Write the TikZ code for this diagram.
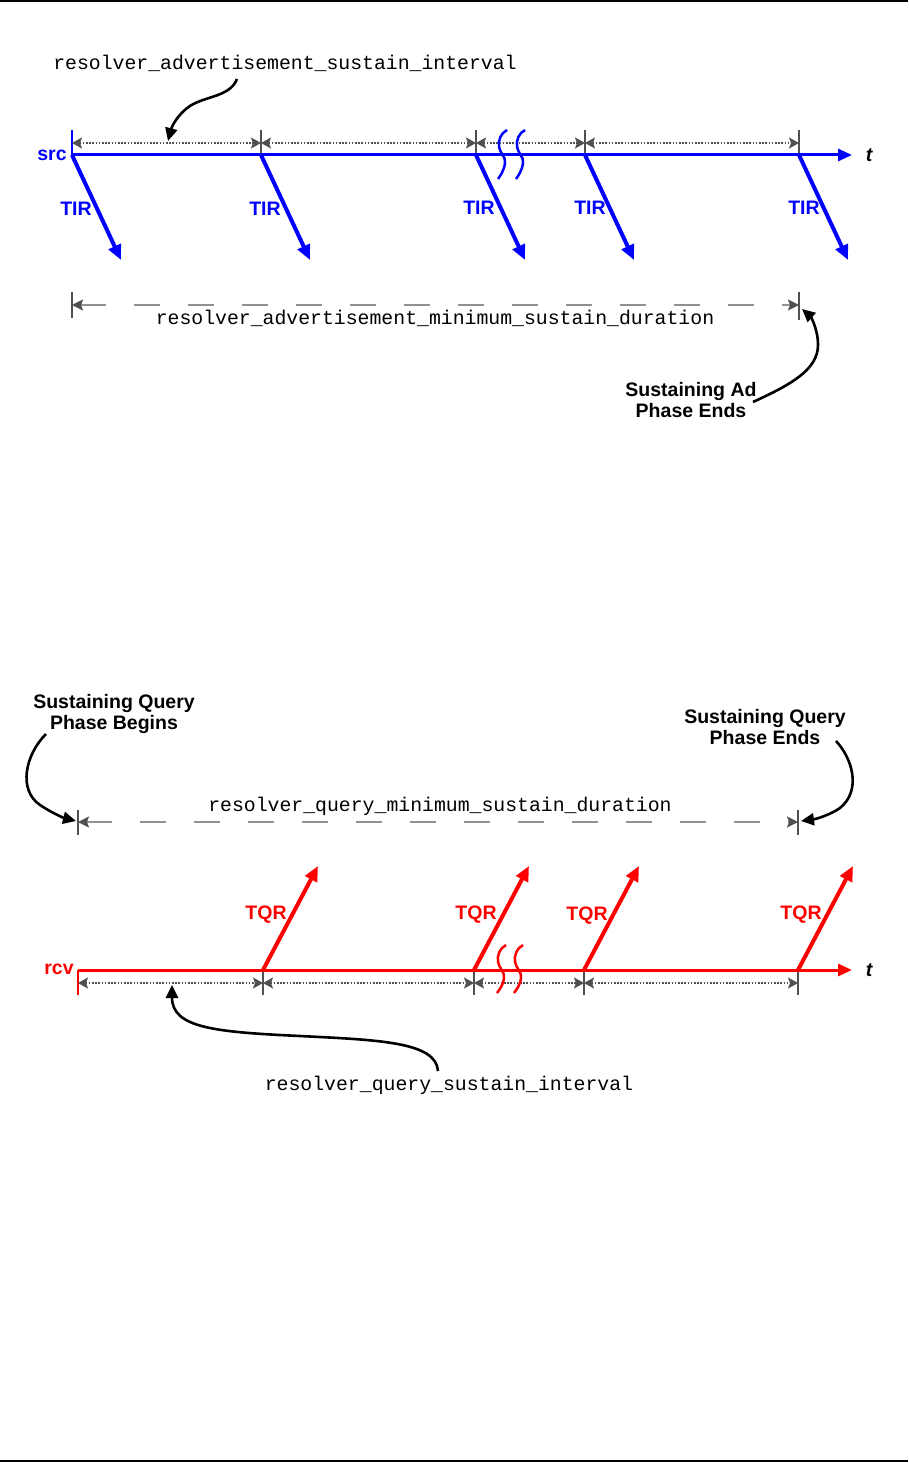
\documentclass[tikz,border=0pt]{standalone}
\usepackage{fontspec}
\setmainfont{Liberation Sans}
\newfontfamily\monof{Liberation Mono}
\usetikzlibrary{arrows.meta}
\definecolor{dimgray}{RGB}{80,80,80}
\definecolor{dashgray}{RGB}{145,145,145}
\begin{document}
\begin{tikzpicture}[x=1pt,y=-1pt,
  axisB/.style={blue,line width=3pt,-{Triangle[length=14pt,width=12pt]}},
  axisR/.style={red,line width=3pt,-{Triangle[length=14pt,width=12pt]}},
  tirarrow/.style={blue,line width=4pt,-{Triangle[length=15pt,width=13pt]}},
  tqrarrow/.style={red,line width=4pt,-{Triangle[length=15pt,width=13pt]}},
  lbl/.style={font=\fontsize{19.5}{21}\selectfont\bfseries,inner sep=0pt,align=center},
  monotext/.style={font=\monof\fontsize{19.8}{22}\selectfont,inner sep=0pt},
  tickmark/.style={dimgray,line width=1.3pt},
  dimline/.style={dimgray,line width=1.5pt,dash pattern=on 1.6pt off 1.6pt,
    {Stealth[length=10pt,width=11pt,inset=2pt]}-{Stealth[length=10pt,width=11pt,inset=2pt]}},
  dashdim/.style={dashgray,line width=2pt,dash pattern=on 26pt off 28pt,
    {Stealth[length=11pt,width=11pt,inset=2pt,dimgray]}-{Stealth[length=11pt,width=11pt,inset=2pt,dimgray]}},
  callout/.style={black,line width=2.6pt,-{Triangle[length=13pt,width=12pt]}},
  breakmark/.style={line width=2.5pt}
]
\useasboundingbox (0,0) rectangle (908,1463);
% page rules
\draw[line width=1.8pt] (0,1) -- (908,1);
\draw[line width=1.8pt] (0,1461) -- (908,1461);

% ================= TOP (src) =================
\coordinate (s0) at (72,155);
\coordinate (s1) at (261,155);
\coordinate (s2) at (476,155);
\coordinate (s3) at (585,155);
\coordinate (s4) at (799,155);
\coordinate (send) at (852,155);
\node[lbl,blue] (src) at (52,155) {src};
\node[lbl,font=\fontsize{19.5}{21}\selectfont\bfseries\itshape] (tS) at (869,155) {t};
% ticks
\draw[blue,line width=1.3pt] (72,130) -- (s0);
\foreach \x in {261,476,585,799} {\draw[tickmark] (\x,130) -- (\x,155);}
% dimension segments
\draw[dimline] (72,143) -- (261,143);
\draw[dimline] (261,143) -- (476,143);
\draw[dimline] (476,143) -- (585,143);
\draw[dimline] (585,143) -- (799,143);
% axis
\draw[axisB] (s0) -- (send);
% break marks
\foreach \x in {503,521} {
  \draw[blue,breakmark] (\x+4,130) .. controls (\x-2,133) and (\x-5,140) .. (\x-4,147)
     .. controls (\x-3,153) and (\x+3,157) .. (\x+2,163)
     .. controls (\x+1,171) and (\x-3,176) .. (\x-5,179);
}
% TIR arrows
\foreach \n/\x in {0/72,1/261,2/476,3/585,4/799} {
  \coordinate (se\n) at (\x+49,260);
  \draw[tirarrow] (s\n) -- (se\n);
}
\node[lbl,blue] (tir0) at (76,209) {TIR};
\node[lbl,blue] (tir1) at (265,209) {TIR};
\node[lbl,blue] (tir2) at (479,208) {TIR};
\node[lbl,blue] (tir3) at (590,208) {TIR};
\node[lbl,blue] (tir4) at (804,208) {TIR};
% interval label
\node[monotext] (advint) at (285,63) {resolver\_advertisement\_sustain\_interval};
\coordinate (advintTip) at (168,141);
\draw[callout] (237,79) .. controls (230,97) and (205,96) .. (190,106)
  .. controls (178,114) and (172,126) .. (advintTip);
% min duration
\coordinate (ad0) at (72,305);
\coordinate (ad1) at (799,305);
\draw[tickmark] (72,292) -- (72,318);
\draw[tickmark] (799,292) -- (799,320);
\draw[dashdim] (ad0) -- (ad1);
\node[monotext] (admin) at (435,318) {resolver\_advertisement\_minimum\_sustain\_duration};
\node[lbl] (adends) at (691,400) {Sustaining Ad\\Phase Ends};
\coordinate (adendTip) at (802,309);
\draw[callout] (753,402) .. controls (790,385) and (818,370) .. (818,345)
  .. controls (818,328) and (810,316) .. (adendTip);

% ================= BOTTOM (rcv) =================
\node[lbl] (qbegin) at (114,714) {Sustaining Query\\Phase Begins};
\node[lbl] (qends) at (765,727) {Sustaining Query\\Phase Ends};
\coordinate (q0) at (78,822);
\coordinate (q1) at (798,822);
\draw[tickmark] (78,810) -- (78,835);
\draw[tickmark] (798,810) -- (798,835);
\draw[dashdim] (q0) -- (q1);
\node[monotext] (qmin) at (440,806) {resolver\_query\_minimum\_sustain\_duration};
\draw[callout] (46,734) .. controls (25,755) and (18,790) .. (40,805)
  .. controls (52,813) and (64,818) .. (76,821);
\draw[callout] (836,741) .. controls (852,758) and (862,790) .. (840,808)
  .. controls (830,815) and (816,819) .. (801,821);

\coordinate (r0) at (78,970);
\coordinate (r1) at (263,970);
\coordinate (r2) at (474,970);
\coordinate (r3) at (584,970);
\coordinate (r4) at (798,970);
\coordinate (rend) at (852,970);
\node[lbl,red] (rcv) at (59,969) {rcv};
\node[lbl,font=\fontsize{19.5}{21}\selectfont\bfseries\itshape] (tR) at (869,970) {t};
\draw[red,line width=1.3pt] (r0) -- (78,995);
\foreach \x in {263,474,584,798} {\draw[tickmark] (\x,970) -- (\x,995);}
\draw[dimline] (78,983) -- (263,983);
\draw[dimline] (263,983) -- (474,983);
\draw[dimline] (474,983) -- (584,983);
\draw[dimline] (584,983) -- (798,983);
\draw[axisR] (r0) -- (rend);
\foreach \x in {502,519} {
  \draw[red,breakmark] (\x+4,945) .. controls (\x-2,948) and (\x-5,955) .. (\x-4,962)
     .. controls (\x-3,968) and (\x+3,972) .. (\x+2,978)
     .. controls (\x+1,986) and (\x-3,990) .. (\x-5,993);
}
\foreach \n/\x in {1/263,2/474,3/584,4/798} {
  \coordinate (re\n) at (\x+55,866);
  \draw[tqrarrow] (r\n) -- (re\n);
}
\node[lbl,red] (tqr1) at (266,915) {TQR};
\node[lbl,red] (tqr2) at (476,915) {TQR};
\node[lbl,red] (tqr3) at (587,916) {TQR};
\node[lbl,red] (tqr4) at (801,915) {TQR};
\node[monotext] (qint) at (449,1085) {resolver\_query\_sustain\_interval};
\coordinate (qintTip) at (172,985);
\draw[callout] (438,1071) .. controls (436,1042) and (380,1040) .. (300,1036)
  .. controls (215,1032) and (172,1028) .. (qintTip);
\end{tikzpicture}
\end{document}
